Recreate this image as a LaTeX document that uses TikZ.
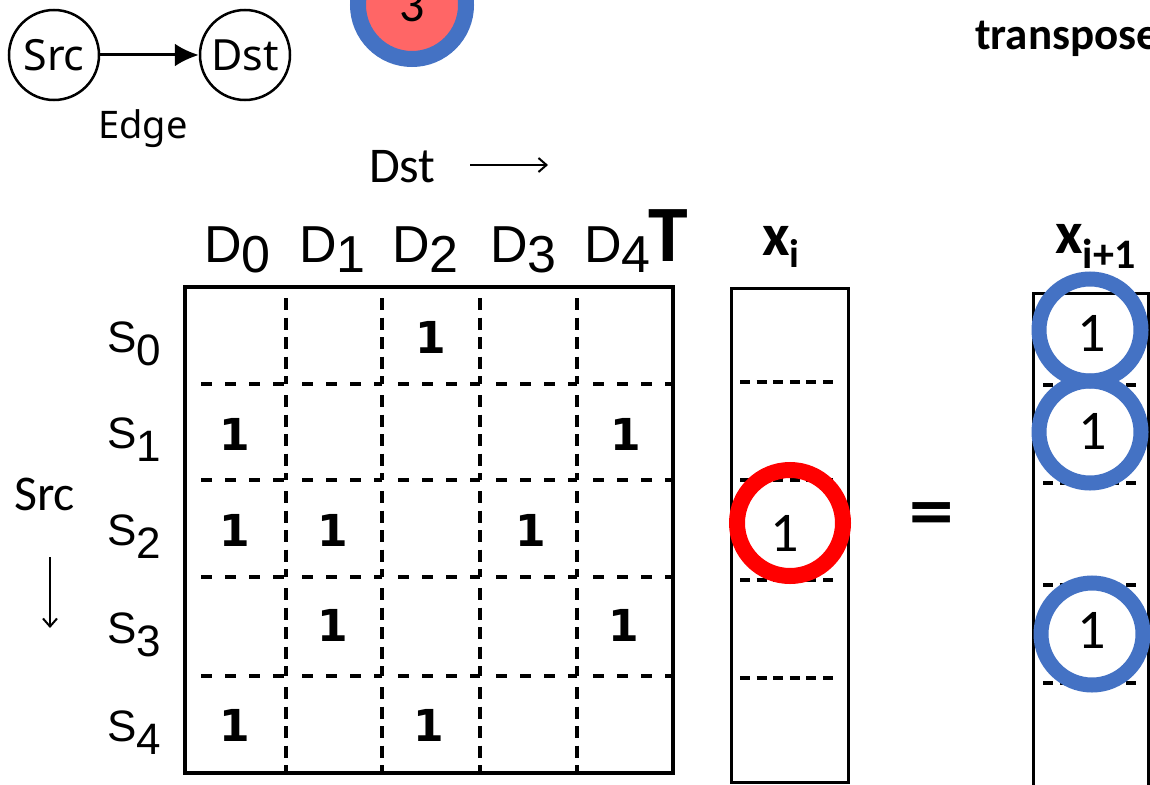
\documentclass[tikz,border=0pt]{standalone}
\usepackage{fontspec}
\setmainfont{Carlito}
\newfontfamily\notosans{Noto Sans}
\newfontfamily\labfont{Liberation Sans}
\newfontfamily\dvfont{DejaVu Sans}
\usetikzlibrary{arrows.meta}
\definecolor{myblue}{RGB}{68,114,196}
\definecolor{myred}{RGB}{255,0,0}
\definecolor{myfill}{RGB}{255,102,102}
\tikzset{
  gnode/.style={circle,draw,line width=2.5pt,minimum size=90pt,inner sep=0pt,font=\notosans\fontsize{43}{43}\selectfont},
  dashh/.style={line width=3.5pt,dash pattern=on 11pt off 13pt},
  dashv/.style={line width=3.5pt,dash pattern=on 12pt off 7.5pt},
  vecdash/.style={line width=3.5pt,dash pattern=on 10pt off 6.6pt},
  entry/.style={inner sep=0pt,font=\dvfont\bfseries\fontsize{44}{44}\selectfont},
  vone/.style={inner sep=0pt,font=\fontsize{56}{56}\selectfont},
  dlab/.style={anchor=base west,inner sep=0pt,font=\labfont\fontsize{52}{52}\selectfont},
  slab/.style={anchor=base west,inner sep=0pt,font=\labfont\fontsize{44}{44}\selectfont},
  ring/.style={circle,line width=15pt,minimum size=102pt,inner sep=0pt},
  thinarrow/.style={line width=2pt,-{Straight Barb[length=8pt,width=14pt]}},
}
\begin{document}
\begin{tikzpicture}[x=1pt,y=-1pt]
\clip (0,0) rectangle (1150,784);
\fill[white] (0,0) rectangle (1150,784);

% top-left legend graph
\node[gnode] (src) at (54,55) {Src};
\node[gnode] (dst) at (245,55) {Dst};
\draw[line width=3pt,-{Latex[length=24pt,width=23pt]}] (src) -- (dst);
\node[anchor=base,inner sep=0pt,font=\notosans\fontsize{38}{38}\selectfont] (edge) at (143,138) {Edge};

% partial circle at top
\node[circle,draw=myblue,fill=myfill,line width=16pt,minimum size=108pt,inner sep=0pt,font=\fontsize{50}{50}\selectfont] (three) at (412,5) {3};

% transpose (cut by the right edge)
\node[anchor=base west,inner sep=0pt,font=\bfseries\fontsize{45}{45}\selectfont] (transp) at (975,49) {transpose};

% Dst / Src axis labels
\node[anchor=base west,inner sep=0pt,font=\fontsize{50}{50}\selectfont] (dstlab) at (369,182) {Dst};
\coordinate (da1) at (470,165);
\coordinate (da2) at (548,165);
\draw[thinarrow] (da1) -- (da2);
\node[anchor=base west,inner sep=0pt,font=\fontsize{50}{50}\selectfont] (srclab) at (14,510) {Src};
\coordinate (sa1) at (50,557);
\coordinate (sa2) at (50,628);
\draw[thinarrow] (sa1) -- (sa2);

% column labels
\node[dlab] (d0) at (204,262) {D\raisebox{-10pt}{0}};
\node[dlab] (d1) at (299,262) {D\raisebox{-10pt}{1}};
\node[dlab] (d2) at (392,262) {D\raisebox{-10pt}{2}};
\node[dlab] (d3) at (490,262) {D\raisebox{-10pt}{3}};
\node[dlab] (d4) at (584,262) {D\raisebox{-10pt}{4}};
\node[inner sep=0pt,font=\bfseries\fontsize{80}{80}\selectfont] (tee) at (668,236) {T};

% row labels
\node[slab] (s0) at (107,352) {S\raisebox{-13pt}{0}};
\node[slab] (s1) at (107,448) {S\raisebox{-13pt}{1}};
\node[slab] (s2) at (107,545) {S\raisebox{-13pt}{2}};
\node[slab] (s3) at (107,643) {S\raisebox{-13pt}{3}};
\node[slab] (s4) at (107,741) {S\raisebox{-13pt}{4}};

% matrix grid
\foreach \xa/\xb in {185/286,286/382,382/480,480/577,577/673}
  \foreach \y in {384,480,577,676}
    \draw[dashh] ({\xa+16},\y) -- (\xb,\y);
\foreach \x in {286,382,480,577}
  \foreach \ya/\yb in {287/384,384/480,480/577,577/676,676/773}
    \draw[dashv] (\x,{\ya+11}) -- (\x,\yb);
\draw[line width=3.5pt] (185,287) rectangle (673,773);

% matrix entries
\node[entry] (e02) at (431,337) {1};
\node[entry] (e10) at (235,434) {1};
\node[entry] (e14) at (626,434) {1};
\node[entry] (e20) at (235,530) {1};
\node[entry] (e21) at (333,530) {1};
\node[entry] (e23) at (531,530) {1};
\node[entry] (e31) at (333,625) {1};
\node[entry] (e34) at (624,625) {1};
\node[entry] (e40) at (235,725) {1};
\node[entry] (e42) at (429,725) {1};

% vector x_i
\node[anchor=base west,inner sep=0pt,font=\bfseries\fontsize{60}{60}\selectfont] (xilab) at (762,255) {x\raisebox{-12pt}{\fontsize{40}{40}\selectfont i}};
\foreach \y in {382,480,580,678}
  \draw[vecdash] (740,\y) -- (834,\y);
\draw[line width=3pt] (731,288) rectangle (848,782);
\node[ring,draw=myred,line width=16pt,minimum size=106pt] (redring) at (790,523) {};
\node[vone] (xione) at (785,533) {1};

% equals sign
\node[inner sep=0pt,font=\dvfont\bfseries\fontsize{60}{60}\selectfont] (eq) at (932,517) {=};

% vector x_{i+1}
\node[anchor=base west,inner sep=0pt,font=\bfseries\fontsize{60}{60}\selectfont] (xnlab) at (1055,253) {x\raisebox{-15pt}{\fontsize{42}{42}\selectfont i+1}};
\foreach \y in {385,483,585,683}
  \draw[vecdash] (1043,\y) -- (1136,\y);
\draw[line width=3pt] (1033,800) -- (1033,293) -- (1148,293) -- (1148,800);
\node[ring,draw=myblue] (b1) at (1090,330) {};
\node[ring,draw=myblue] (b2) at (1090,432) {};
\node[ring,draw=myblue] (b3) at (1092,634) {};
\node[vone] (n1) at (1092,333) {1};
\node[vone] (n2) at (1093,431) {1};
\node[vone] (n3) at (1092,630) {1};
\end{tikzpicture}
\end{document}
